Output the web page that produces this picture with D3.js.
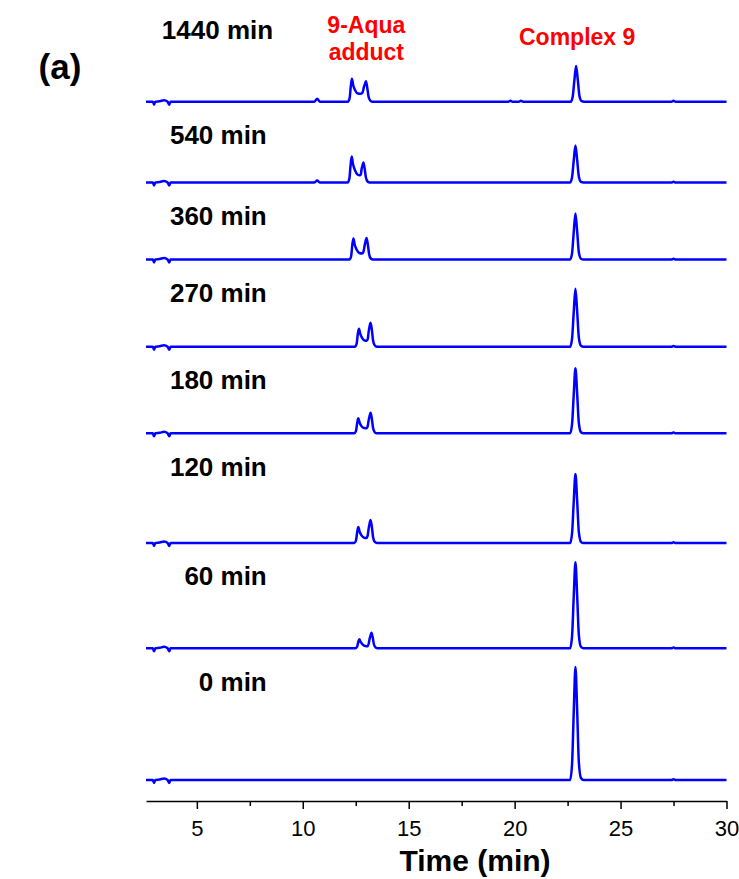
<!DOCTYPE html>
<html>
<head>
<meta charset="utf-8">
<script src="https://cdn.jsdelivr.net/npm/d3@7"></script>
<style>
  body { margin: 0; background: #fff; }
  svg text { font-family: "Liberation Sans", Arial, sans-serif; }
</style>
</head>
<body>
<svg id="chart"></svg>
<script>
/* HPLC traces, stacked by reaction time */

// reaction times (bottom to top) and their vertical offsets (mAU)
const labels = ['0 min', '60 min', '120 min', '180 min', '270 min', '360 min', '540 min', '1440 min'];
const offsets = [0, 1317, 2370, 3467, 4333, 5205, 5975, 6783];

const majorTicks = [5, 10, 15, 20, 25, 30];
const minorTicks = [7.5, 12.5, 17.5, 22.5, 27.5];

// injection noise at the start of every run
const startNoise = [[2.6, 0], [2.92, 0], [2.98, -30], [3.04, 0], [3.25, 5], [3.45, 15], [3.62, 0], [3.7, -30], [3.76, 0]];

// [time (min), signal (mAU)]
const trace0 = [
  [22.62, 0], [22.71, 160], [22.79, 680], [22.87, 1130], [22.95, 700], [23.03, 180], [23.13, 20], [23.25, 0],
  [27.4, 0], [27.5, 8], [27.6, 0], [30, 0]
];
const trace60 = [
  [12.48, 0], [12.56, 14], [12.62, 63], [12.67, 90], [12.73, 64], [12.82, 40], [12.95, 22], [13.06, 20],
  [13.11, 45], [13.16, 100], [13.2, 130], [13.24, 156], [13.3, 110], [13.36, 38], [13.44, 8], [13.54, 0],
  [22.62, 0], [22.71, 120], [22.79, 520], [22.87, 860], [22.95, 530], [23.03, 135], [23.13, 15], [23.25, 0],
  [27.4, 0], [27.5, 8], [27.6, 0], [30, 0]
];
const trace120 = [
  [12.43, 0], [12.51, 24], [12.57, 112], [12.62, 160], [12.68, 115], [12.77, 76], [12.9, 53], [13.0, 50],
  [13.06, 72], [13.11, 145], [13.15, 190], [13.2, 230], [13.26, 162], [13.32, 56], [13.4, 11], [13.5, 0],
  [22.62, 0], [22.71, 97], [22.79, 415], [22.87, 690], [22.95, 425], [23.03, 110], [23.13, 12], [23.25, 0],
  [27.4, 0], [27.5, 8], [27.6, 0], [30, 0]
];
const trace180 = [
  [12.43, 0], [12.51, 22], [12.57, 105], [12.62, 150], [12.68, 108], [12.77, 72], [12.9, 52], [13.0, 50],
  [13.06, 68], [13.11, 130], [13.15, 170], [13.2, 205], [13.26, 145], [13.32, 50], [13.4, 10], [13.5, 0],
  [22.62, 0], [22.71, 91], [22.79, 390], [22.87, 650], [22.95, 400], [23.03, 103], [23.13, 11], [23.25, 0],
  [27.4, 0], [27.5, 8], [27.6, 0], [30, 0]
];
const trace270 = [
  [12.46, 0], [12.54, 28], [12.6, 130], [12.65, 180], [12.71, 130], [12.8, 88], [12.92, 62], [13.02, 60],
  [13.07, 80], [13.11, 150], [13.15, 200], [13.2, 240], [13.26, 170], [13.32, 60], [13.4, 12], [13.5, 0],
  [22.62, 0], [22.71, 81], [22.79, 348], [22.87, 580], [22.95, 357], [23.03, 92], [23.13, 10], [23.25, 0],
  [27.4, 0], [27.5, 8], [27.6, 0], [30, 0]
];
const trace360 = [
  [12.2, 0], [12.28, 30], [12.34, 150], [12.39, 210], [12.45, 150], [12.54, 100], [12.67, 65], [12.8, 60],
  [12.86, 75], [12.92, 140], [12.96, 180], [13.01, 215], [13.07, 150], [13.13, 55], [13.21, 10], [13.31, 0],
  [22.62, 0], [22.71, 64], [22.79, 276], [22.87, 460], [22.95, 283], [23.03, 73], [23.13, 8], [23.25, 0],
  [27.4, 0], [27.5, 8], [27.6, 0], [30, 0]
];
const trace540 = [
  [10.55, 0], [10.68, 20], [10.8, 0],
  [12.12, 0], [12.2, 40], [12.26, 180], [12.31, 260], [12.37, 185], [12.46, 125], [12.58, 80], [12.7, 72],
  [12.74, 80], [12.78, 140], [12.82, 170], [12.86, 200], [12.92, 140], [12.98, 50], [13.06, 10], [13.16, 0],
  [22.62, 0], [22.71, 52], [22.79, 222], [22.87, 370], [22.95, 228], [23.03, 59], [23.13, 6], [23.25, 0],
  [27.4, 0], [27.5, 8], [27.6, 0], [30, 0]
];
const trace1440 = [
  [10.55, 0], [10.68, 30], [10.8, 0],
  [12.13, 0], [12.21, 35], [12.27, 160], [12.32, 230], [12.38, 165], [12.47, 115], [12.6, 82], [12.74, 80],
  [12.82, 92], [12.89, 150], [12.93, 175], [12.98, 205], [13.04, 145], [13.1, 55], [13.18, 12], [13.28, 0],
  [19.7, 0], [19.8, 10], [19.9, 0], [20.2, 0], [20.3, 10], [20.4, 0],
  [22.65, 0], [22.74, 50], [22.82, 214], [22.9, 357], [22.98, 220], [23.06, 57], [23.16, 6], [23.28, 0],
  [27.4, 0], [27.5, 10], [27.6, 0], [30, 0]
];
const traces = [trace0, trace60, trace120, trace180, trace270, trace360, trace540, trace1440];

// peak annotations: [text lines, retention time (min)]
const annotations = [
  [['9-Aqua', 'adduct'], 13.0],
  [['Complex 9'], 22.95]
];

const W = 739, H = 879;
const svg = d3.select('#chart').attr('width', W).attr('height', H);

const x = d3.scaleLinear().domain([2.6, 30]).range([146, 726.5]);
const y = d3.scaleLinear().domain([0, 6800]).range([780, 100]);
const axisY = 801;

const line = d3.line()
  .x(d => x(d[0]))
  .y(d => y(d[1]))
  .curve(d3.curveMonotoneX);

// traces
traces.forEach((tr, i) => {
  const pts = startNoise.concat(tr).map(d => [d[0], d[1] + offsets[i]]);
  svg.append('path')
    .attr('d', line(pts))
    .attr('fill', 'none')
    .attr('stroke', '#0000ff')
    .attr('stroke-width', 2.5)
    .attr('stroke-linejoin', 'round');
});

// trace labels sit just under the trace above
labels.forEach((lab, i) => {
  const cy = i < labels.length - 1 ? y(offsets[i + 1]) + 33 : 30;
  svg.append('text')
    .attr('x', i < labels.length - 1 ? x(8.3) : x(8.6))
    .attr('y', cy)
    .attr('dy', '0.36em')
    .attr('text-anchor', 'end')
    .attr('font-size', 26)
    .attr('font-weight', 'bold')
    .attr('fill', '#000')
    .text(lab);
});

// red peak annotations
annotations.forEach(([lines, t]) => {
  const top = lines.length > 1 ? 25 : 37;
  lines.forEach((s, j) => {
    svg.append('text')
      .attr('x', x(t))
      .attr('y', top + j * 27)
      .attr('dy', '0.36em')
      .attr('text-anchor', 'middle')
      .attr('font-size', 23)
      .attr('font-weight', 'bold')
      .attr('fill', '#ff0000')
      .text(s);
  });
});

// x axis
const gx = svg.append('g').attr('transform', `translate(0,${axisY})`);
gx.call(d3.axisBottom(x).tickValues(majorTicks).tickSize(8).tickSizeOuter(0).tickPadding(11).tickFormat(d3.format('d')));
gx.call(g => g.selectAll('.tick text').attr('font-size', 22).attr('fill', '#000').style('font-family', '"Liberation Sans", Arial, sans-serif'));
gx.selectAll('path.domain, .tick line').attr('stroke', '#000').attr('stroke-width', 1.5);

const gm = svg.append('g').attr('transform', `translate(0,${axisY})`);
gm.call(d3.axisBottom(x).tickValues(minorTicks).tickSize(5).tickFormat(''));
gm.select('path.domain').remove();
gm.selectAll('.tick line').attr('stroke', '#000').attr('stroke-width', 1.5);

svg.append('text')
  .attr('x', 475)
  .attr('y', 860)
  .attr('dy', '0.36em')
  .attr('text-anchor', 'middle')
  .attr('font-size', 30)
  .attr('font-weight', 'bold')
  .text('Time (min)');

svg.append('text')
  .attr('x', 60)
  .attr('y', 66)
  .attr('dy', '0.36em')
  .attr('text-anchor', 'middle')
  .attr('font-size', 35)
  .attr('font-weight', 'bold')
  .text('(a)');
</script>
</body>
</html>
